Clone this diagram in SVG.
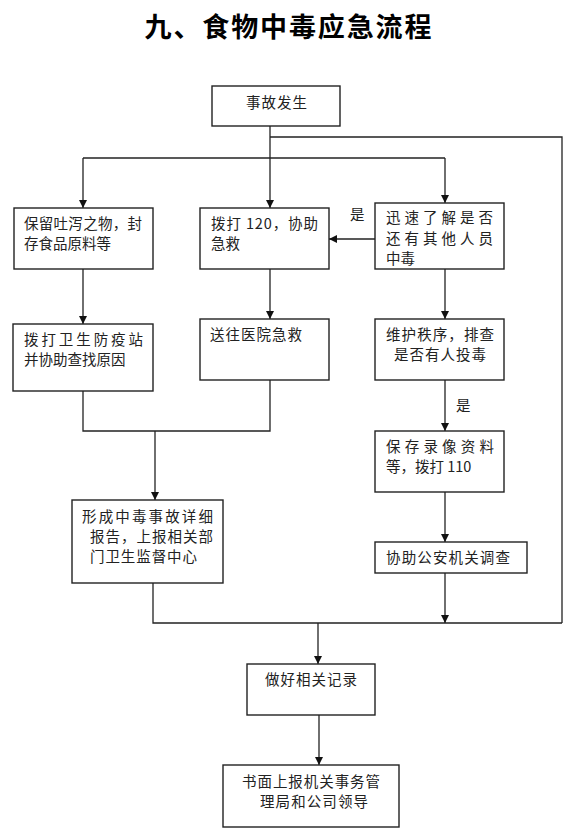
<svg xmlns="http://www.w3.org/2000/svg" width="577" height="834" viewBox="0 0 577 834">
<style>
.box{fill:#fff;stroke:#222;stroke-width:1.4}
.t{font-family:"Noto Sans CJK SC","Liberation Serif",sans-serif;font-size:14.5px;fill:#222}
.title{font-family:"Noto Sans CJK SC",sans-serif;font-size:27px;font-weight:bold;fill:#000}
.c{fill:none;stroke:#222;stroke-width:1.3}
.a{fill:none;stroke:#222;stroke-width:1.3;marker-end:url(#ah)}
</style>
<defs>
<marker id="ah" viewBox="0 0 10 10" refX="10" refY="5" markerWidth="8" markerHeight="8" markerUnits="userSpaceOnUse" orient="auto">
<path d="M0,0 L10,5 L0,10 z" fill="#111"/>
</marker>
</defs>
<rect width="577" height="834" fill="#fff"/>
<text class="title" x="288" y="37" text-anchor="middle" textLength="287" lengthAdjust="spacing">九、食物中毒应急流程</text>

<g id="connectors">
<path class="a" d="M270,126 V208"/>
<path class="c" d="M83,158 H445"/>
<path class="a" d="M83,158 V208"/>
<path class="a" d="M445,158 V203"/>
<path class="c" d="M270,137 H562 V623"/>
<path class="a" d="M375,239 H329"/>
<path class="a" d="M83,269 V324"/>
<path class="a" d="M270,269 V319"/>
<path class="a" d="M445,269 V319"/>
<path class="c" d="M83,391 V431 H270 V380"/>
<path class="a" d="M155,431 V500"/>
<path class="a" d="M445,380 V431"/>
<path class="a" d="M445,492 V542"/>
<path class="c" d="M153,583 V623 H562"/>
<path class="a" d="M445,573 V623"/>
<path class="a" d="M318,623 V664"/>
<path class="a" d="M319,715 V765"/>
<text class="t" x="350" y="220">是</text>
<text class="t" x="456" y="411">是</text>
</g>

<g id="n1"><rect class="box" x="212" y="86" width="128" height="40"/>
<text class="t" x="246" y="108" textLength="61" lengthAdjust="spacing">事故发生</text></g>

<g id="n2"><rect class="box" x="14" y="208" width="139" height="61"/>
<text class="t" x="24" y="229" textLength="118" lengthAdjust="spacing">保留吐泻之物，封</text>
<text class="t" x="24" y="249">存食品原料等</text></g>

<g id="n3"><rect class="box" x="200" y="208" width="129" height="61"/>
<text class="t" x="211" y="229" textLength="107" lengthAdjust="spacing">拨打 120，协助</text>
<text class="t" x="211" y="249">急救</text></g>

<g id="n4"><rect class="box" x="375" y="203" width="129" height="66"/>
<text class="t" x="386" y="223" textLength="107" lengthAdjust="spacing">迅速了解是否</text>
<text class="t" x="386" y="244" textLength="107" lengthAdjust="spacing">还有其他人员</text>
<text class="t" x="386" y="264">中毒</text></g>

<g id="n5"><rect class="box" x="13" y="324" width="140" height="67"/>
<text class="t" x="24" y="345" textLength="119" lengthAdjust="spacing">拨打卫生防疫站</text>
<text class="t" x="24" y="365">并协助查找原因</text></g>

<g id="n6"><rect class="box" x="200" y="319" width="129" height="61"/>
<text class="t" x="210" y="340" textLength="92" lengthAdjust="spacing">送往医院急救</text></g>

<g id="n7"><rect class="box" x="375" y="319" width="129" height="61"/>
<text class="t" x="386" y="340" textLength="108" lengthAdjust="spacing">维护秩序，排查</text>
<text class="t" x="394" y="360" textLength="92" lengthAdjust="spacing">是否有人投毒</text></g>

<g id="n8"><rect class="box" x="375" y="431" width="129" height="61"/>
<text class="t" x="386" y="452" textLength="108" lengthAdjust="spacing">保存录像资料</text>
<text class="t" x="386" y="472">等，拨打 110</text></g>

<g id="n9"><rect class="box" x="72" y="500" width="151" height="83"/>
<text class="t" x="82" y="522" textLength="131" lengthAdjust="spacing">形成中毒事故详细</text>
<text class="t" x="90" y="542" textLength="123" lengthAdjust="spacing">报告，上报相关部</text>
<text class="t" x="90" y="562" textLength="107" lengthAdjust="spacing">门卫生监督中心</text></g>

<g id="n10"><rect class="box" x="375" y="542" width="152" height="31"/>
<text class="t" x="386" y="563" textLength="124" lengthAdjust="spacing">协助公安机关调查</text></g>

<g id="n11"><rect class="box" x="247" y="664" width="128" height="51"/>
<text class="t" x="265" y="685" textLength="92" lengthAdjust="spacing">做好相关记录</text></g>

<g id="n12"><rect class="box" x="223" y="765" width="176" height="62"/>
<text class="t" x="242" y="787" textLength="138" lengthAdjust="spacing">书面上报机关事务管</text>
<text class="t" x="260" y="807" textLength="108" lengthAdjust="spacing">理局和公司领导</text></g>
</svg>
